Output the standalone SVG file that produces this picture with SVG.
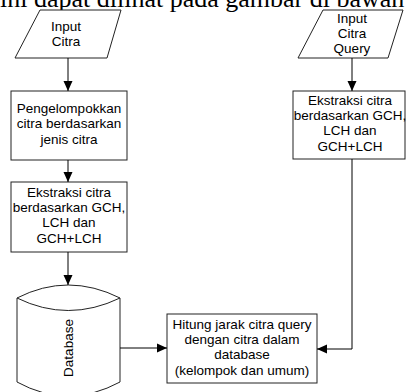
<svg xmlns="http://www.w3.org/2000/svg" width="406" height="392" viewBox="0 0 406 392">
  <defs>
    <marker id="ah" markerUnits="userSpaceOnUse" markerWidth="10" markerHeight="10" viewBox="0 0 10 10" refX="10" refY="5" orient="auto">
      <path d="M0,0.5 L10,5 L0,9.5 Z" fill="#000"/>
    </marker>
    <style>
      .shape { fill: #fff; stroke: #222; stroke-width: 1; }
      .lbl { font-family: "Liberation Sans", Arial, sans-serif; font-size: 13.5px; fill: #000; text-anchor: middle; }
      .conn { fill: none; stroke: #000; stroke-width: 1; marker-end: url(#ah); }
    </style>
  </defs>
  <rect width="406" height="392" fill="#fff"/>
  <text x="0" y="7" font-family="'Liberation Serif', 'Times New Roman', serif" font-size="26" fill="#000">ini dapat dilihat pada gambar di bawah</text>

  <g id="input-citra">
    <polygon class="shape" points="40,10 121,10 107,58 15,58"/>
    <text class="lbl" x="66" y="31">Input</text>
    <text class="lbl" x="66" y="46">Citra</text>
  </g>

  <g id="pengelompokkan">
    <rect class="shape" x="11" y="91" width="116" height="69"/>
    <text class="lbl" x="69" y="113">Pengelompokkan</text>
    <text class="lbl" x="69" y="128">citra berdasarkan</text>
    <text class="lbl" x="69" y="144">jenis citra</text>
  </g>

  <g id="ekstraksi-1">
    <rect class="shape" x="11" y="182" width="116" height="70"/>
    <text class="lbl" x="69" y="197">Ekstraksi citra</text>
    <text class="lbl" x="69" y="212">berdasarkan GCH,</text>
    <text class="lbl" x="69" y="227">LCH dan</text>
    <text class="lbl" x="69" y="243">GCH+LCH</text>
  </g>

  <g id="database">
    <path class="shape" d="M17,298 Q68,272 120,298 L120,382 Q68,410 17,382 Z"/>
    <path fill="none" stroke="#222" stroke-width="1" d="M17,298 Q68,323 120,298"/>
    <text class="lbl" x="0" y="0" transform="translate(73,348) rotate(-90)">Database</text>
  </g>

  <g id="hitung-jarak">
    <rect class="shape" x="167" y="314" width="150" height="69"/>
    <text class="lbl" x="242" y="329">Hitung jarak citra query</text>
    <text class="lbl" x="242" y="344">dengan citra dalam</text>
    <text class="lbl" x="242" y="359">database</text>
    <text class="lbl" x="242" y="375">(kelompok dan umum)</text>
  </g>

  <g id="input-citra-query">
    <polygon class="shape" points="323,10 403,10 388,58 298,58"/>
    <text class="lbl" x="352" y="23">Input</text>
    <text class="lbl" x="352" y="38">Citra</text>
    <text class="lbl" x="352" y="53">Query</text>
  </g>

  <g id="ekstraksi-2">
    <rect class="shape" x="293" y="91" width="112" height="68"/>
    <text class="lbl" x="350" y="105">Ekstraksi citra</text>
    <text class="lbl" x="350" y="120">berdasarkan GCH,</text>
    <text class="lbl" x="350" y="135">LCH dan</text>
    <text class="lbl" x="350" y="151">GCH+LCH</text>
  </g>

  <g id="connectors">
    <path class="conn" d="M68,58 L68,91"/>
    <path class="conn" d="M68,160 L68,182"/>
    <path class="conn" d="M68,252 L68,285"/>
    <path class="conn" d="M120,348 L167,348"/>
    <path class="conn" d="M352,58 L352,91"/>
    <path class="conn" d="M352,159 L352,349 L317,349"/>
  </g>
</svg>
